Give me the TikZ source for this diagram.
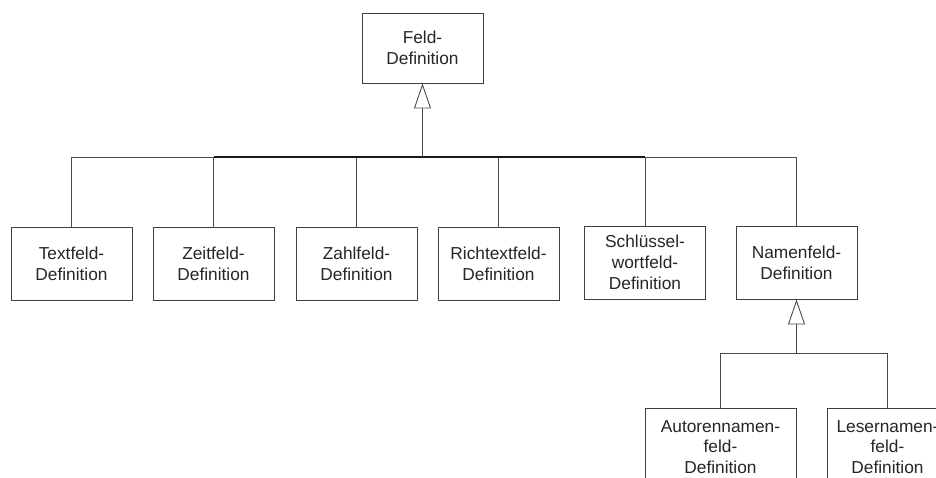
\documentclass[tikz,border=0pt]{standalone}
\usepackage{fontspec}
\setmainfont{Liberation Sans}
\usetikzlibrary{arrows.meta}
\begin{document}
\begin{tikzpicture}[x=1pt,y=-1pt,
  cls/.style={draw=black!75, line width=0.9pt, fill=white, align=center,
    minimum width=121pt, minimum height=73pt, inner sep=0pt,
    text=black!85, font=\fontsize{17.3}{20.8}\selectfont},
  link/.style={draw=black!70, line width=0.9pt},
  inherit/.style={link, -{Triangle[open, length=25pt, width=17pt, line width=0.9pt]}}]
\useasboundingbox (0,0) rectangle (936,478);
\clip (0,0) rectangle (936,478);
\fill[white] (0,0) rectangle (936,478);

% base class
\node[cls, minimum height=70pt] (feld) at (422.5,48) {Feld-\\Definition};

% first level of subclasses
\node[cls] (text)  at (71.5,263.5)  {Textfeld-\\Definition};
\node[cls] (zeit)  at (213.5,263.5) {Zeitfeld-\\Definition};
\node[cls] (zahl)  at (356.5,263.5) {Zahlfeld-\\Definition};
\node[cls] (rich)  at (498.5,263.5) {Richtextfeld-\\Definition};
\node[cls] (schl)  at (645,262.5)   {Schlüssel-\\wortfeld-\\Definition};
\node[cls] (namen) at (796.5,262.5) {Namenfeld-\\Definition};

% subclasses of the name field
\node[cls, minimum width=151pt, minimum height=78pt] (autor) at (720.5,447) {Autorennamen-\\feld-\\Definition};
\node[cls, minimum height=78pt] (leser) at (887.5,447) {Lesernamen-\\feld-\\Definition};

% junctions
\coordinate (bar1) at (422.5,157);
\coordinate (bar2) at (796.5,353);

% inheritance tree below the base class
\foreach \c in {text,zeit,zahl,rich,schl,namen}
  \draw[link] (\c.north) |- (bar1);
\draw[link, draw=black!90, line width=1.6pt] (zeit.north |- bar1) -- (schl.north |- bar1);
\draw[inherit] (bar1) -- (feld.south);

% inheritance tree below the name field
\foreach \c in {autor,leser}
  \draw[link] (\c.north) |- (bar2);
\draw[inherit] (bar2) -- (namen.south);
\end{tikzpicture}
\end{document}
